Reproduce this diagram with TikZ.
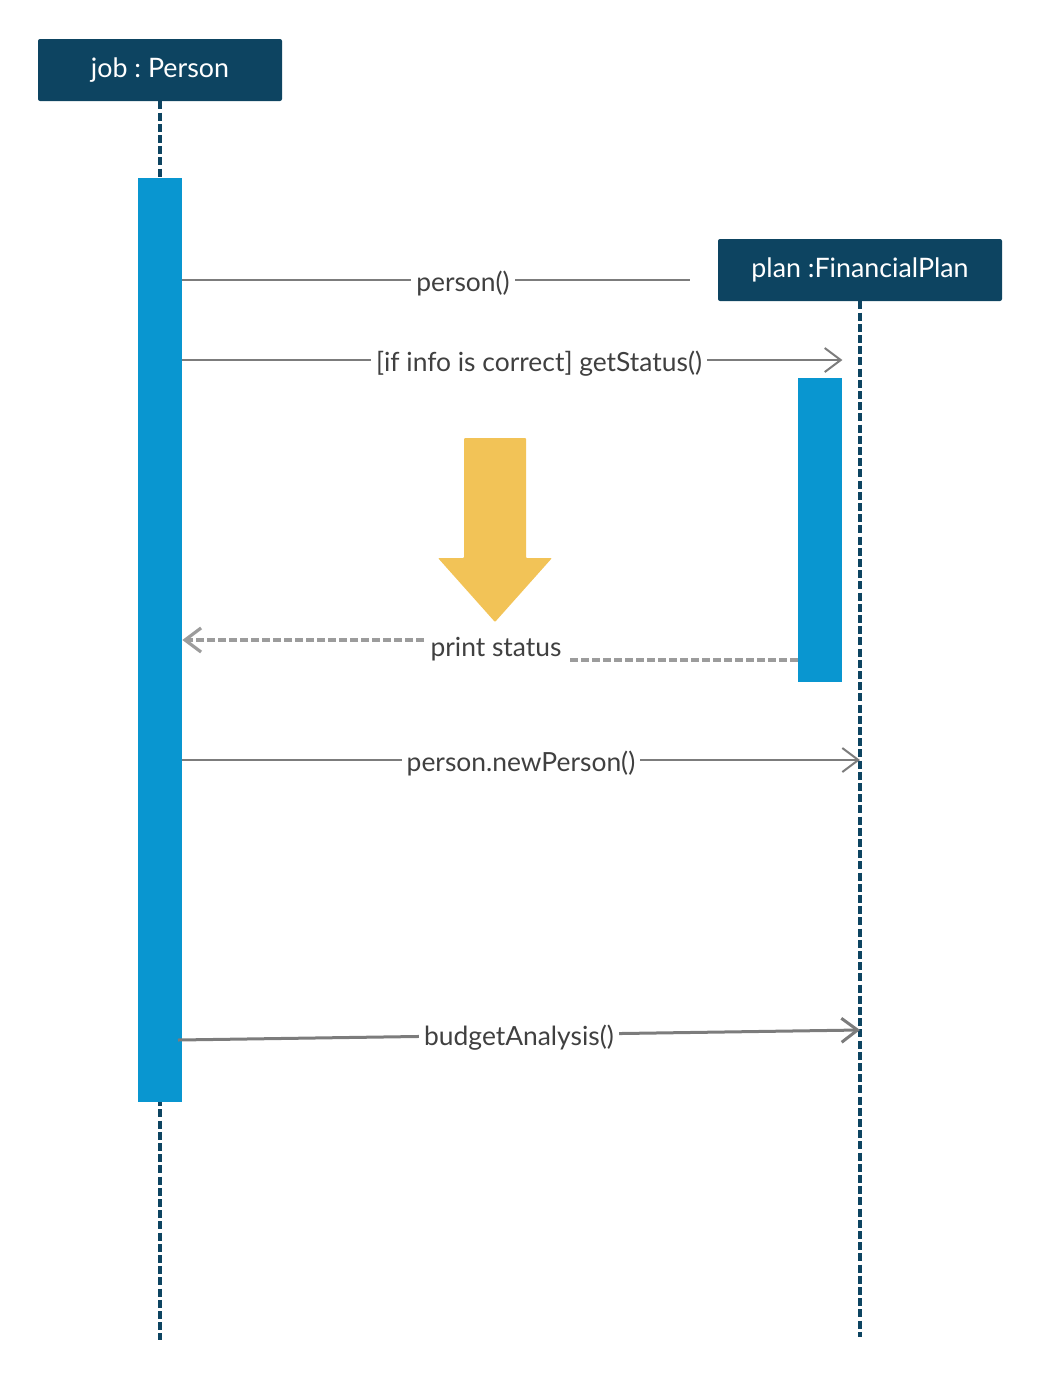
\documentclass[tikz,border=0pt]{standalone}
\usepackage{fontspec}
\setmainfont{Lato}
\usetikzlibrary{arrows.meta,positioning}
\definecolor{objblue}{HTML}{0D4461}
\definecolor{actblue}{HTML}{0996D0}
\definecolor{msggray}{HTML}{7C7C7C}
\definecolor{retgray}{HTML}{9C9C9C}
\definecolor{txtgray}{HTML}{404040}
\definecolor{hintyellow}{HTML}{F2C357}
\frenchspacing

\begin{document}
\begin{tikzpicture}[
  x=0.5pt, y=-0.5pt,
  obj/.style={rectangle, fill=objblue, rounded corners=1pt, text=white,
              font=\fontsize{13.4}{15}\selectfont, minimum height=31pt, inner sep=0pt},
  act/.style={rectangle, fill=actblue, minimum width=22pt, inner sep=0pt},
  life/.style={objblue, line width=1.6pt, dash pattern=on 4pt off 1.6pt},
  msg/.style={msggray, line width=1pt},
  ret/.style={retgray, line width=1.6pt, dash pattern=on 4pt off 1.5pt},
  lbl/.style={fill=white, text=txtgray, font=\fontsize{13.2}{15}\selectfont, inner sep=2.5pt},
  open/.style={-{Straight Barb[length=8pt, width=12pt]}}
]
\useasboundingbox (0,0) rectangle (1040,1381);

% objects and lifelines
\node[obj, minimum width=122pt] (job) at (160,70) {job : Person};
\node[obj, minimum width=142pt] (plan) at (860,270) {plan :FinancialPlan};
\coordinate (jobend) at (160,1340);
\coordinate (planend) at (860,1337);
\draw[life] (job.south) -- (jobend);
\draw[life] (plan.south) -- (planend);

% activations
\node[act, minimum height=462pt, anchor=north] (jobact) at (160,178) {};
\node[act, minimum height=152pt, anchor=north] (planact) at (820,378) {};

% messages
\coordinate (m1end) at (690,280);
\draw[msg] (jobact.east |- 0,280) -- (m1end);
\node[lbl] (m1) at (463,284) {person()};

\draw[msg, open] (jobact.east |- 0,360) -- (planact.east |- 0,360);
\node[lbl] (m2) at (539,364) {[if info is correct] getStatus()};

\fill[hintyellow, rounded corners=0.5pt] (464,438) -- (526,438) -- (526,558) -- (552,558)
  -- (495,622) -- (438,558) -- (464,558) -- cycle;

\node[lbl] (m3) at (496,649) {print status};
\coordinate (r1) at (568,660);
\coordinate (r2) at (424,640);
\draw[ret] (planact.west |- 0,660) -- (r1);
\draw[ret, open, retgray] (r2) -- (jobact.east |- 0,640);

\draw[msg, open] (jobact.east |- 0,760) -- (planend |- 0,760);
\node[lbl] (m4) at (521,764) {person.newPerson()};

\coordinate (b1) at (178,1040);
\draw[msg, line width=1.5pt, open] (b1) -- (planend |- 0,1030);
\node[lbl] (m5) at (519,1038) {budgetAnalysis()};
\end{tikzpicture}
\end{document}
